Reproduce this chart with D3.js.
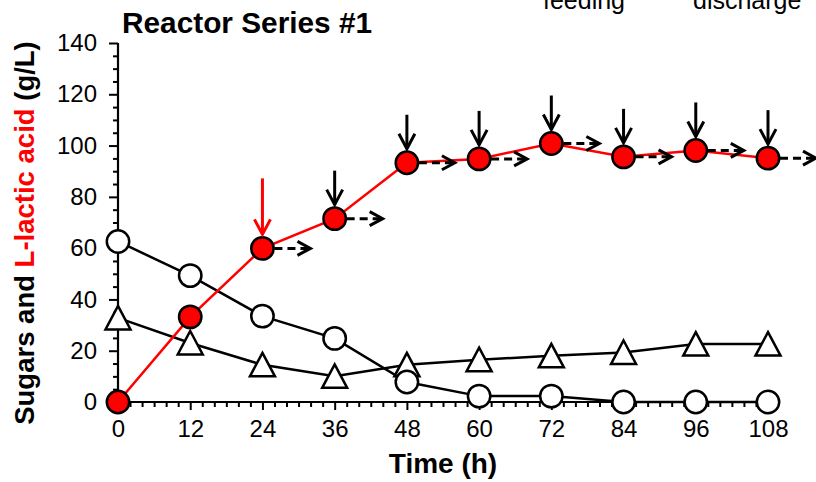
<!DOCTYPE html>
<html><head><meta charset="utf-8">
<script src="https://cdn.jsdelivr.net/npm/d3@7"></script>
<style>body{margin:0;background:#fff}svg{display:block}text{font-family:Arial,"Liberation Sans",sans-serif}</style>
</head><body>
<script>
const times = [0,12,24,36,48,60,72,84,96,108];
const lacticAcid = [0,33.2,59.9,71.5,93.3,94.8,100.8,95.6,98.1,95.1];
const sugarCircles = [62.6,49.3,33.5,24.8,7.8,2.3,2.3,0,0,0];
const sugarTriangles = [32.8,23,14.5,10,14.5,16.5,18,19.3,22.6,22.6];
const feedTimes = [24,36,48,60,72,84,96,108];
const firstFeedRed = 24;
const xTicks = [0,12,24,36,48,60,72,84,96,108];
const yTicks = [0,20,40,60,80,100,120,140];

const W=816,H=482;
const svg=d3.select("body").append("svg").attr("width",W).attr("height",H);
const x=d3.scaleLinear().domain([0,108]).range([118,768]);
const y=d3.scaleLinear().domain([0,140]).range([402,43]);

// top clipped texts (cut off at the top edge as in the reference)
svg.append("text").attr("x",543).attr("y",9).attr("font-size",25).text("feeding");
svg.append("text").attr("x",693).attr("y",9).attr("font-size",25).text("discharge");

// title
svg.append("text").attr("x",122).attr("y",33).attr("font-size",29.8).attr("font-weight","bold").text("Reactor Series #1");

// axes
const yAxis=d3.axisLeft(y).tickValues(yTicks).tickSize(9).tickPadding(12);
const yMinor=d3.axisLeft(y).tickValues(d3.range(0,141,5).filter(v=>v%20)).tickSize(5).tickFormat("");
const xAxis=d3.axisBottom(x).tickValues(xTicks).tickSize(8).tickPadding(10);
const xMinor=d3.axisBottom(x).tickValues(d3.range(0,109,2).filter(v=>v%12)).tickSize(5).tickFormat("");
function style(g){g.select(".domain").remove();
  g.selectAll(".tick line").attr("stroke","#000").attr("stroke-width",2);
  g.selectAll(".tick text").attr("font-size",24).attr("fill","#000").attr("font-family","Arial, 'Liberation Sans', sans-serif");}
svg.append("g").attr("transform","translate(118,0)").call(yMinor).call(style);
svg.append("g").attr("transform","translate(118,0)").call(yAxis).call(style);
svg.append("g").attr("transform","translate(0,402)").call(xMinor).call(style);
svg.append("g").attr("transform","translate(0,402)").call(xAxis).call(style);
svg.append("line").attr("x1",118).attr("x2",118).attr("y1",y(140)).attr("y2",y(0)).attr("stroke","#000").attr("stroke-width",2.2);
svg.append("line").attr("x1",118).attr("x2",x(108)).attr("y1",y(0)).attr("y2",y(0)).attr("stroke","#000").attr("stroke-width",2.2);

// axis titles
svg.append("text").attr("x",x(54)).attr("y",473).attr("text-anchor","middle").attr("font-size",28).attr("font-weight","bold").text("Time (h)");
const yl=svg.append("text").attr("transform","translate(34,233) rotate(-90)").attr("text-anchor","middle").attr("font-size",27.5).attr("font-weight","bold");
yl.append("tspan").text("Sugars and ");
yl.append("tspan").attr("fill","#ff0000").text("L-lactic acid");
yl.append("tspan").text(" (g/L)");

// lines
const line=(vals)=>d3.line().x((d,i)=>x(times[i])).y(d=>y(d))(vals);
svg.append("path").attr("d",line(sugarTriangles)).attr("fill","none").attr("stroke","#000").attr("stroke-width",2.5);
svg.append("path").attr("d",line(sugarCircles)).attr("fill","none").attr("stroke","#000").attr("stroke-width",2.5);
svg.append("path").attr("d",line(lacticAcid)).attr("fill","none").attr("stroke","#ff0000").attr("stroke-width",2.5);

// triangles
svg.selectAll(".tri").data(sugarTriangles).enter().append("path")
 .attr("d",(d,i)=>{const cx=x(times[i]),cy=y(d);return `M${cx},${cy-12}L${cx+12.5},${cy+11.5}L${cx-12.5},${cy+11.5}Z`;})
 .attr("fill","#fff").attr("stroke","#000").attr("stroke-width",2.5).attr("stroke-linejoin","miter");
// open circles
svg.selectAll(".oc").data(sugarCircles).enter().append("circle")
 .attr("cx",(d,i)=>x(times[i])).attr("cy",d=>y(d)).attr("r",11.2).attr("fill","#fff").attr("stroke","#000").attr("stroke-width",2.5);

// discharge dashed arrows
const lacAt=t=>lacticAcid[times.indexOf(t)];
feedTimes.forEach(t=>{
  const cx=x(t),cy=y(lacAt(t));
  svg.append("line").attr("x1",cx+12).attr("x2",cx+47).attr("y1",cy).attr("y2",cy)
    .attr("stroke","#000").attr("stroke-width",3).attr("stroke-dasharray","8,5");
  svg.append("path").attr("d",`M${cx+35},${cy-7}L${cx+48},${cy}L${cx+35},${cy+7}`)
    .attr("fill","none").attr("stroke","#000").attr("stroke-width",3);
});
// red circles
svg.selectAll(".rc").data(lacticAcid).enter().append("circle")
 .attr("cx",(d,i)=>x(times[i])).attr("cy",d=>y(d)).attr("r",11.2).attr("fill","#ff0000").attr("stroke","#000").attr("stroke-width",2.5);

// feeding arrows
feedTimes.forEach(t=>{
  const cx=x(t),cy=y(lacAt(t));
  const red=t===firstFeedRed;
  const col=red?"#ff0000":"#000";
  const top=cy-(red?70:48), tip=cy-14;
  svg.append("line").attr("x1",cx).attr("x2",cx).attr("y1",top).attr("y2",tip).attr("stroke",col).attr("stroke-width",3);
  svg.append("path").attr("d",`M${cx-8},${tip-15}L${cx},${tip}L${cx+8},${tip-15}`).attr("fill","none").attr("stroke",col).attr("stroke-width",3);
});
</script>
</body></html>
